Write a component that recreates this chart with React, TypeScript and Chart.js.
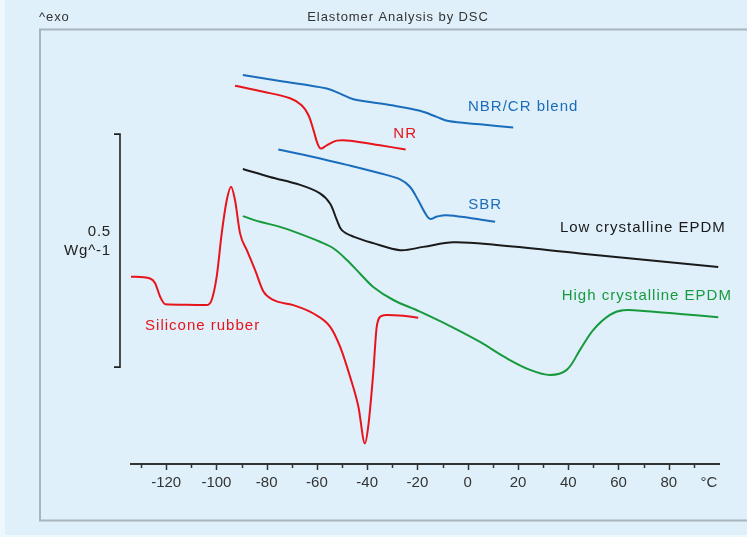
import React, { useEffect, useRef } from 'react';
import { Chart, registerables } from 'chart.js';

Chart.register(...registerables);

// ---- Data (temperature in °C, heat flow in mW/g, arbitrary offset per curve) ----
const SILICONE_T = [-134, -126.4, -124.4, -122.4, -120.4, -111.8, -103.9, -101.9, -99.9, -97.9, -95.9, -94.2, -92.6, -90.6, -87.9, -84.6, -81.3, -77.4, -69.4, -61.4, -54.8, -50.8, -46.8, -43.5, -40.9, -39.6, -37.6, -36.2, -34.2, -32.2, -25.6, -19.7];
const SILICONE_HF = [402, 398, 388, 359, 343, 342, 341, 352, 402, 495, 566, 595, 566, 495, 459, 416, 370, 352, 341, 323, 295, 252, 187, 123, 44, 80, 195, 295, 318, 320, 318, 314];

const LOW_EPDM_T = [-89.5, -78.7, -66.7, -58.8, -54.8, -52.1, -50.1, -45.5, -37.6, -26.9, -17.7, -5.7, 11.5, 44.7, 71.2, 99.7];
const LOW_EPDM_HF = [633, 616, 599, 581, 559, 524, 502, 488, 474, 459, 466, 476, 470, 452, 438, 423];

const HIGH_EPDM_T = [-89.5, -82.7, -74.7, -66.7, -58.8, -53.5, -48.1, -42.9, -37.6, -29.6, -19.0, -7.0, 4.9, 15.5, 24.8, 32.7, 39.4, 44.7, 50.0, 56.6, 61.9, 71.2, 84.5, 99.7];
const HIGH_EPDM_HF = [532, 520, 509, 494, 477, 463, 438, 409, 380, 352, 327, 296, 262, 227, 202, 191, 202, 245, 288, 320, 330, 328, 322, 315];

const NR_T = [-92.6, -81.3, -70.7, -66.1, -63.4, -61.4, -59.8, -58.5, -56.1, -52.1, -46.8, -34.9, -24.7];
const NR_HF = [812, 799, 785, 770, 749, 717, 688, 677, 684, 694, 694, 684, 675];

const NBR_T = [-89.5, -74.7, -56.1, -50.8, -45.5, -38.9, -28.3, -19.0, -12.3, -7.7, 4.9, 18.1];
const NBR_HF = [835, 822, 806, 795, 783, 777, 768, 758, 745, 736, 729, 722];

const SBR_T = [-75.4, -61.4, -48.1, -34.9, -26.9, -23.0, -19.7, -17.0, -15.0, -12.3, -8.4, 0.9, 10.9];
const SBR_HF = [675, 659, 642, 624, 611, 595, 566, 539, 526, 531, 534, 528, 520];

// ---- Axis ----
const X_MIN = -134;
const X_MAX = 100;
const Y_MIN = 0;
const Y_MAX = 910;
const MAJOR_TICKS = [-120, -100, -80, -60, -40, -20, 0, 20, 40, 60, 80];
const MINOR_TICKS = [-130, -110, -90, -70, -50, -30, -10, 10, 30, 50, 70, 90];
const UNIT_TICK_AT = 96;
const UNIT_LABEL = '°C';

// ---- Scale bar (0.5 W/g = 500 mW/g) ----
const SCALE_BAR_FROM = 208;
const SCALE_BAR_SPAN = 500;
const SCALE_BAR_TEXT = ['0.5', 'Wg^-1'];

// ---- Texts ----
const TITLE = 'Elastomer Analysis by DSC';
const EXO_TEXT = '^exo';
const CURVE_LABELS = ['NBR/CR blend', 'NR', 'SBR', 'Low crystalline EPDM', 'High crystalline EPDM', 'Silicone rubber'];
const CURVE_LABEL_T = [0.1, -29.6, 0.2, 36.7, 37.4, -128.4];
const CURVE_LABEL_HF = [766, 708, 557, 506, 360, 296];

const RED = '#e8141c';
const BLUE = '#1a6cbc';
const GREEN = '#179a3c';
const BLACK = '#1a1a1a';
const CURVE_LABEL_COLORS = [BLUE, RED, BLUE, BLACK, GREEN, RED];

const FONT = '"Liberation Sans", Arial, Helvetica, sans-serif';

const zip = (xs: number[], ys: number[]) => xs.map((x, i) => ({ x, y: ys[i] }));

const decorPlugin = {
  id: 'decor',
  beforeDraw(chart: any) {
    const { ctx, width, height } = chart;
    ctx.save();
    ctx.fillStyle = '#eef7fc';
    ctx.fillRect(0, 0, width, height);
    ctx.fillStyle = '#dff0fa';
    ctx.fillRect(5, 0, width - 5, height - 2);
    ctx.strokeStyle = '#a9b4bb';
    ctx.lineWidth = 2;
    ctx.strokeRect(40, 29.5, width + 40, 491);
    ctx.restore();
  },
  afterDraw(chart: any) {
    const { ctx, chartArea } = chart;
    const xs = chart.scales.x;
    const ys = chart.scales.y;
    ctx.save();
    // tick marks
    ctx.strokeStyle = '#333';
    ctx.lineWidth = 1.5;
    const axisY = chartArea.bottom;
    const drawTick = (v: number, len: number) => {
      const px = Math.round(xs.getPixelForValue(v)) + 0.5;
      ctx.beginPath();
      ctx.moveTo(px, axisY);
      ctx.lineTo(px, axisY + len);
      ctx.stroke();
    };
    MAJOR_TICKS.forEach((v) => drawTick(v, 6));
    MINOR_TICKS.forEach((v) => drawTick(v, 4));

    // scale bar bracket
    const bx = chartArea.left - 11;
    const yTop = ys.getPixelForValue(SCALE_BAR_FROM + SCALE_BAR_SPAN);
    const yBot = ys.getPixelForValue(SCALE_BAR_FROM);
    ctx.strokeStyle = '#222';
    ctx.lineWidth = 1.6;
    ctx.beginPath();
    ctx.moveTo(bx - 6, yTop);
    ctx.lineTo(bx, yTop);
    ctx.lineTo(bx, yBot);
    ctx.lineTo(bx - 6, yBot);
    ctx.stroke();
    const yMid = (yTop + yBot) / 2;
    ctx.fillStyle = '#222';
    ctx.font = `15px ${FONT}`;
    (ctx as any).letterSpacing = '0.8px';
    ctx.textAlign = 'right';
    ctx.textBaseline = 'middle';
    ctx.fillText(SCALE_BAR_TEXT[0], bx - 9, yMid - 19);
    ctx.fillText(SCALE_BAR_TEXT[1], bx - 9, yMid);

    // title and exo
    ctx.fillStyle = '#333';
    ctx.font = `13px ${FONT}`;
    (ctx as any).letterSpacing = '0.9px';
    ctx.textAlign = 'center';
    ctx.fillText(TITLE, 398, 17);
    ctx.textAlign = 'left';
    ctx.fillText(EXO_TEXT, 39, 17);

    // curve labels
    ctx.font = `15px ${FONT}`;
    (ctx as any).letterSpacing = '1px';
    ctx.textAlign = 'left';
    CURVE_LABELS.forEach((t, i) => {
      ctx.fillStyle = CURVE_LABEL_COLORS[i];
      ctx.fillText(t, xs.getPixelForValue(CURVE_LABEL_T[i]), ys.getPixelForValue(CURVE_LABEL_HF[i]));
    });
    ctx.restore();
  },
};

export default function App() {
  const ref = useRef<HTMLCanvasElement | null>(null);
  useEffect(() => {
    if (!ref.current) return;
    const mk = (label: string, xs: number[], ys: number[], color: string, monotone: boolean) => ({
      label,
      data: zip(xs, ys),
      borderColor: color,
      backgroundColor: color,
      borderWidth: 2,
      pointRadius: 0,
      fill: false,
      tension: monotone ? 0 : 0.35,
      cubicInterpolationMode: monotone ? ('monotone' as const) : ('default' as const),
    });
    const chart = new Chart(ref.current, {
      type: 'line',
      data: {
        datasets: [
          mk('NBR/CR blend', NBR_T, NBR_HF, BLUE, false),
          mk('NR', NR_T, NR_HF, RED, false),
          mk('SBR', SBR_T, SBR_HF, BLUE, false),
          mk('Low crystalline EPDM', LOW_EPDM_T, LOW_EPDM_HF, BLACK, false),
          mk('High crystalline EPDM', HIGH_EPDM_T, HIGH_EPDM_HF, GREEN, false),
          mk('Silicone rubber', SILICONE_T, SILICONE_HF, RED, true),
        ],
      },
      options: {
        responsive: false,
        animation: false,
        layout: { padding: { left: 131, right: 28, top: 40, bottom: 0 } },
        plugins: { legend: { display: false }, tooltip: { enabled: false }, title: { display: false } },
        scales: {
          x: {
            type: 'linear',
            position: 'bottom',
            min: X_MIN,
            max: X_MAX,
            grid: { display: false, drawTicks: false, drawOnChartArea: false },
            border: { display: true, color: '#333', width: 2 },
            afterBuildTicks: (scale: any) => {
              const vals = [...MAJOR_TICKS, ...MINOR_TICKS, UNIT_TICK_AT].sort((a, b) => a - b);
              scale.ticks = vals.map((v) => ({ value: v }));
            },
            afterFit: (scale: any) => {
              scale.height = 73;
            },
            ticks: {
              autoSkip: false,
              maxRotation: 0,
              padding: 10,
              color: '#333',
              font: { family: FONT, size: 15 },
              callback: (v: any) => {
                const n = Number(v);
                if (n === UNIT_TICK_AT) return UNIT_LABEL;
                return MAJOR_TICKS.includes(n) ? String(n) : '';
              },
            },
          },
          y: { type: 'linear', display: false, min: Y_MIN, max: Y_MAX },
        },
      },
      plugins: [decorPlugin],
    });
    return () => chart.destroy();
  }, []);
  return (
    <div style={{ position: 'fixed', left: 0, top: 0, width: 747, height: 537 }}>
      <canvas ref={ref} width={747} height={537} style={{ display: 'block' }} />
    </div>
  );
}
